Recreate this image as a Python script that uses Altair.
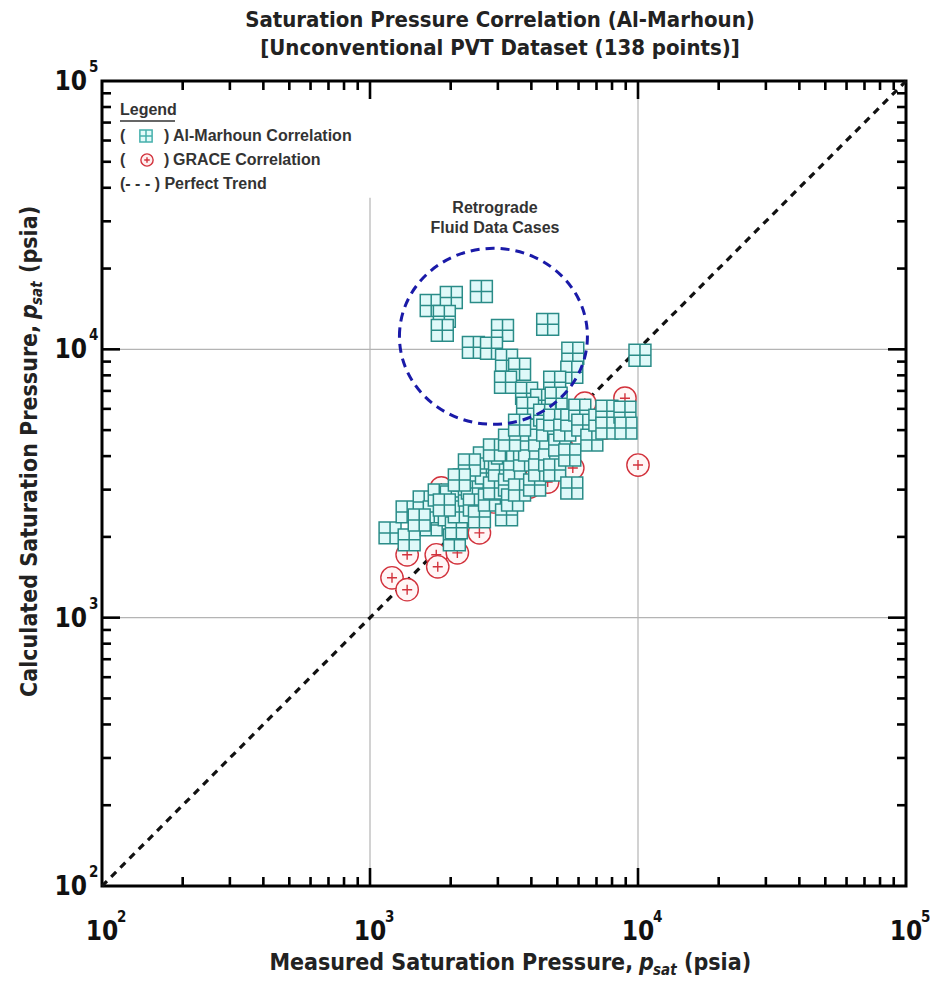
import altair as alt
import pandas as pd

W, H = 804, 805

# ---- data (psia) ----
marhoun_x = [1692, 2011, 1894, 1861, 2604, 4602, 3122, 2431, 2840, 3232,
             5711, 3615, 3204, 5662, 4888, 3840, 4370, 3873, 10170, 4950,
             1188, 1376, 1400, 1593, 1692, 1737, 1813, 2011, 1976, 2064,
             2100, 2154, 2249, 2349, 2410, 2452, 2560, 2515, 2719, 2673,
             2791, 2914, 3042, 3122, 3232, 3316, 3403, 3462, 3615, 3553,
             3774, 3940, 3940, 4114, 4295, 4295, 4484, 4602, 4682, 4888,
             4888, 5104, 5330, 5565, 5662, 6065, 6223, 6726, 7206, 7655,
             7655, 8940, 9018, 5662, 2914, 3316, 3615, 2349, 2154, 1894,
             1526]
marhoun_y = [14570, 15610, 13270, 11770, 16430, 12390, 11770, 10170, 10090, 9103,
             9663, 8427, 7539, 8214, 7539, 6861, 6464, 6037, 9499, 6575,
             2070, 2478, 1950, 2699, 2217, 2478, 2866, 2818, 2415, 1950,
             2161, 2478, 3258, 2866, 3043, 2631, 2374, 3549, 3459, 3934,
             2746, 3043, 3549, 4106, 2415, 3122, 2746, 3549, 2991, 4213,
             3867, 4213, 5000, 3122, 4589, 3549, 5684, 5000, 3867, 5447,
             3549, 4396, 5000, 4036, 5447, 5934, 5219, 4589, 5447, 5883,
             5087, 5833, 5087, 3043, 4213, 4589, 5219, 3705, 3258, 2631,
             2313]

grace_x = [8940, 6332, 7524, 10000, 5711, 4602, 1845, 1376, 1767, 1790,
           2118, 1208, 1376, 2560, 3940, 3232, 2900, 3400, 4200, 5200, 2300]
grace_y = [6575, 6300, 5087, 3705, 3611, 3203, 3043, 1715, 1715, 1547,
           1744, 1408, 1271, 2070, 3069, 3769, 2700, 3100, 3400, 4300, 2400]

trend_v = [100, 100000]

minor_ticks = [200, 300, 400, 500, 600, 700, 800, 900,
               2000, 3000, 4000, 5000, 6000, 7000, 8000, 9000,
               20000, 30000, 40000, 50000, 60000, 70000, 80000, 90000]
major_ticks = [1000, 10000]
label_vals = [100, 1000, 10000, 100000]
label_exp = ["2", "3", "4", "5"]

grid_x = [1000, 10000]
grid_x_top = [36700, 100000]
grid_y = [1000, 10000]

circle_x = [2888]
circle_y = [11180]

NARROW = "Liberation Sans Narrow, Arial Narrow, DejaVu Sans Condensed, sans-serif"
SANS = "Liberation Sans, Arial, sans-serif"

xs = alt.Scale(type="log", domain=[100, 100000], nice=False)
ys = alt.Scale(type="log", domain=[100, 100000], nice=False)

SQUARE = "M-1,-1H1V1H-1Z M0,-1V1 M-1,0H1"
CIRC_PLUS = "M-1,0A1,1,0,1,1,1,0A1,1,0,1,1,-1,0Z M-0.45,0H0.45 M0,-0.45V0.45"
ELLIPSE = "M-1,0A1,0.936,0,1,1,1,0A1,0.936,0,1,1,-1,0Z"

df_m = pd.DataFrame({"x": marhoun_x, "y": marhoun_y})
df_g = pd.DataFrame({"x": grace_x, "y": grace_y})
df_t = pd.DataFrame({"x": trend_v, "y": trend_v})
df_gx = pd.DataFrame({"x": grid_x, "y": [100, 100], "y2": grid_x_top})
df_gy = pd.DataFrame({"y": grid_y, "x": [100, 100], "x2": [100000, 100000]})
df_minor = pd.DataFrame({"v": minor_ticks})
df_major = pd.DataFrame({"v": major_ticks})
df_lab = pd.DataFrame({"v": label_vals, "e": label_exp, "b": ["10"] * 4})
df_c = pd.DataFrame({"x": circle_x, "y": circle_y})

grid_v = alt.Chart(df_gx).mark_rule(color="#b4b4b4", strokeWidth=1.2).encode(
    x=alt.X("x:Q", scale=xs, axis=None), y=alt.Y("y:Q", scale=ys, axis=None), y2="y2:Q")
grid_h = alt.Chart(df_gy).mark_rule(color="#b4b4b4", strokeWidth=1.2).encode(
    y=alt.Y("y:Q", scale=ys, axis=None), x=alt.X("x:Q", scale=xs, axis=None), x2="x2:Q")

trend = alt.Chart(df_t).mark_line(color="#111111", strokeWidth=3.2, strokeDash=[7, 6]).encode(
    x=alt.X("x:Q", scale=xs, axis=None), y=alt.Y("y:Q", scale=ys, axis=None))

grace = alt.Chart(df_g).mark_point(shape=CIRC_PLUS, size=500, filled=False, fill="#fff6f6",
                                   fillOpacity=1, stroke="#d2323c", strokeWidth=1.4, opacity=1).encode(
    x=alt.X("x:Q", scale=xs, axis=None), y=alt.Y("y:Q", scale=ys, axis=None))

marhoun = alt.Chart(df_m).mark_point(shape=SQUARE, size=480, filled=False, fill="#dff9f9",
                                     fillOpacity=1, stroke="#2a8c88", strokeWidth=1.5, opacity=1).encode(
    x=alt.X("x:Q", scale=xs, axis=None), y=alt.Y("y:Q", scale=ys, axis=None))

ellipse = alt.Chart(df_c).mark_point(shape=ELLIPSE, size=35344, filled=False, stroke="#1a1aa8",
                                     strokeWidth=3, strokeDash=[9, 6], opacity=1).encode(
    x=alt.X("x:Q", scale=xs, axis=None), y=alt.Y("y:Q", scale=ys, axis=None))

TW = 2.6
tick_layers = []
for df, ln in [(df_minor, 9), (df_major, 18)]:
    tick_layers.append(alt.Chart(df).mark_rule(color="black", strokeWidth=TW).encode(
        x=alt.X("v:Q", scale=xs, axis=None), y=alt.value(H), y2=alt.value(H - ln)))
    tick_layers.append(alt.Chart(df).mark_rule(color="black", strokeWidth=TW).encode(
        x=alt.X("v:Q", scale=xs, axis=None), y=alt.value(0), y2=alt.value(ln)))
    tick_layers.append(alt.Chart(df).mark_rule(color="black", strokeWidth=TW).encode(
        y=alt.Y("v:Q", scale=ys, axis=None), x=alt.value(0), x2=alt.value(ln)))
    tick_layers.append(alt.Chart(df).mark_rule(color="black", strokeWidth=TW).encode(
        y=alt.Y("v:Q", scale=ys, axis=None), x=alt.value(W), x2=alt.value(W - ln)))

# tick labels
xl_base = alt.Chart(df_lab).mark_text(font=NARROW, fontSize=26, fontWeight="bold", color="#111",
                                      baseline="alphabetic", align="center").encode(
    x=alt.X("v:Q", scale=xs, axis=None), y=alt.value(H + 54), text="b:N")
xl_exp = alt.Chart(df_lab).mark_text(font=NARROW, fontSize=15, fontWeight="bold", color="#111",
                                     baseline="alphabetic", align="left", dx=15).encode(
    x=alt.X("v:Q", scale=xs, axis=None), y=alt.value(H + 36), text="e:N")
yl_base = alt.Chart(df_lab).mark_text(font=NARROW, fontSize=26, fontWeight="bold", color="#111",
                                      baseline="alphabetic", align="right", dy=9).encode(
    y=alt.Y("v:Q", scale=ys, axis=None), x=alt.value(-15), text="b:N")
yl_exp = alt.Chart(df_lab).mark_text(font=NARROW, fontSize=15, fontWeight="bold", color="#111",
                                     baseline="alphabetic", align="left", dy=-9).encode(
    y=alt.Y("v:Q", scale=ys, axis=None), x=alt.value(-13), text="e:N")


def txt(s, x, y, size, font=NARROW, weight="bold", style="normal", align="left",
        baseline="middle", angle=0, color="#222"):
    return alt.Chart(pd.DataFrame({"t": [s]})).mark_text(
        font=font, fontSize=size, fontWeight=weight, fontStyle=style, align=align,
        baseline=baseline, angle=angle, color=color).encode(
        x=alt.value(x), y=alt.value(y), text="t:N")


LX = 18  # legend left (plot coords)
texts = [
    txt("Saturation Pressure Correlation (Al-Marhoun)", 398, -61, 22, align="center"),
    txt("[Unconventional PVT Dataset (138 points)]", 398, -33, 22, align="center"),
    # x title
    txt("Measured Saturation Pressure,", 531, 882, 23, align="right"),
    txt("p", 537, 882, 23, style="italic"),
    txt("sat", 551, 889, 15, style="italic"),
    txt("(psia)", 582, 882, 23),
    # y title
    txt("Calculated Saturation Pressure,", -72, 244, 23, align="right", angle=270),
    txt("p", -72, 238, 23, style="italic", angle=270),
    txt("sat", -65, 224, 15, style="italic", angle=270),
    txt("(psia)", -72, 192, 23, angle=270),
    # annotation
    txt("Retrograde", 393, 127, 16, font=SANS, align="center", color="#333"),
    txt("Fluid Data Cases", 393, 147, 16, font=SANS, align="center", color="#333"),
    # legend
    txt("Legend", LX, 29, 16, font=SANS, color="#333"),
    txt("(", LX, 55, 16, font=SANS, color="#333"),
    txt(")", LX + 44, 55, 16, font=SANS, color="#333"),
    txt("Al-Marhoun Correlation", LX + 53, 55, 16, font=SANS, color="#333"),
    txt("(", LX, 79, 16, font=SANS, color="#333"),
    txt(")", LX + 44, 79, 16, font=SANS, color="#333"),
    txt("GRACE Correlation", LX + 53, 79, 16, font=SANS, color="#333"),
    txt("(- - - ) Perfect Trend", LX, 103, 16, font=SANS, color="#333"),
]

legend_underline = alt.Chart(pd.DataFrame({"a": [0]})).mark_rule(color="#333", strokeWidth=1.5).encode(
    x=alt.value(LX), x2=alt.value(LX + 55), y=alt.value(40))
leg_sq = alt.Chart(pd.DataFrame({"a": [0]})).mark_point(
    shape=SQUARE, size=150, filled=False, fill="#e2fafa", fillOpacity=1, stroke="#45b0ac",
    strokeWidth=1.5, opacity=1).encode(x=alt.value(LX + 26), y=alt.value(55))
leg_ci = alt.Chart(pd.DataFrame({"a": [0]})).mark_point(
    shape=CIRC_PLUS, size=150, filled=False, fill="#fff0f0", fillOpacity=1, stroke="#d2323c",
    strokeWidth=1.4, opacity=1).encode(x=alt.value(LX + 27), y=alt.value(79))

chart = alt.layer(
    grid_v, grid_h, trend, grace, marhoun, ellipse, *tick_layers,
    xl_base, xl_exp, yl_base, yl_exp, *texts, legend_underline, leg_sq, leg_ci
).properties(
    width=W, height=H,
    padding={"left": 102, "top": 81, "right": 24, "bottom": 99},
    autosize=alt.AutoSizeParams(type="none"),
    background="white",
).configure_view(stroke="black", strokeWidth=3)

chart.save("out.html", embed_options={"renderer": "svg", "actions": False})
